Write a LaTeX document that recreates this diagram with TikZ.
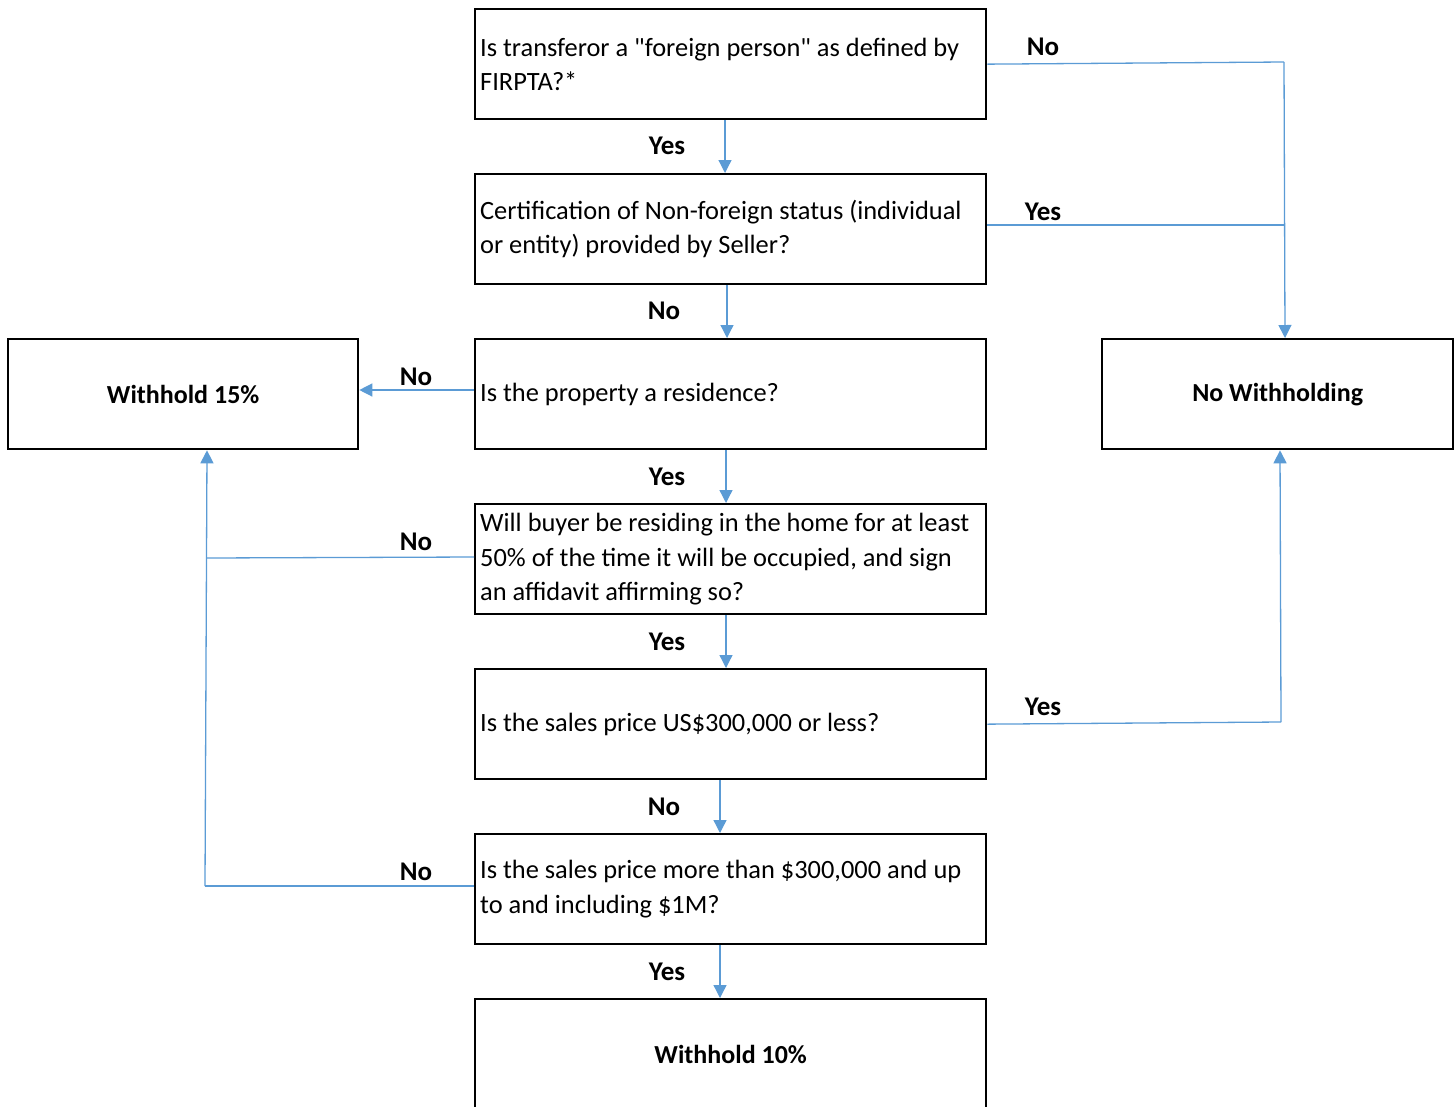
\documentclass[tikz,border=0pt]{standalone}
\usepackage{fontspec}
\setmainfont{Carlito}
\usetikzlibrary{arrows.meta}
\definecolor{conn}{HTML}{5B9BD5}
\begin{document}
\begin{tikzpicture}[x=1pt,y=-1pt,
  qbox/.style={draw=black, line width=2.3pt, minimum width=511pt, minimum height=110pt,
    text width=501pt, inner xsep=5pt, inner ysep=0pt, align=flush left,
    font=\fontsize{26.4}{34.3}\selectfont, anchor=north west},
  rbox/.style={draw=black, line width=2.3pt, minimum height=110pt, align=center,
    font=\fontsize{26}{32}\selectfont\bfseries, anchor=north west},
  lbl/.style={font=\fontsize{27}{32}\selectfont\bfseries, inner sep=0pt},
  conn/.style={draw=conn, line width=1.3pt},
  arr/.style={conn, -{Triangle[width=13pt,length=13pt]}}
]
\useasboundingbox (0,0) rectangle (1456,1106);
\clip (0,0) rectangle (1456,1106);

% question boxes
\node[qbox] (b1) at (474,8) {Is transferor a \textquotedbl foreign person\textquotedbl{} as defined by\\FIRPTA?*};
\node[qbox] (b2) at (474,173) {Certification of Non-foreign status (individual\\or entity) provided by Seller?};
\node[qbox] (b3) at (474,338) {Is the property a residence?};
\node[qbox] (b4) at (474,503) {Will buyer be residing in the home for at least\\50\% of the time it will be occupied, and sign\\an affidavit affirming so?};
\node[qbox] (b5) at (474,668) {Is the sales price US\$300,000 or less?};
\node[qbox] (b6) at (474,833) {Is the sales price more than \$300,000 and up\\to and including \$1M?};

% result boxes
\node[rbox, minimum width=511pt] (w10) at (474,998) {Withhold 10\%};
\node[rbox, minimum width=350pt] (w15) at (7,338) {Withhold 15\%};
\node[rbox, minimum width=351pt] (nw) at (1101,338) {No Withholding};

% vertical chain
\draw[arr] (b1.south -| 725,0) -- (b2.north -| 725,0);
\draw[arr] (b2.south -| 727,0) -- (b3.north -| 727,0);
\draw[arr] (b3.south -| 726,0) -- (b4.north -| 726,0);
\draw[arr] (b4.south -| 726,0) -- (b5.north -| 726,0);
\draw[arr] (b5.south -| 720,0) -- (b6.north -| 720,0);
\draw[arr] (b6.south -| 720,0) -- (w10.north -| 720,0);

\node[lbl] (l1) at (667,146) {Yes};
\node[lbl] (l2) at (664,311) {No};
\node[lbl] (l3) at (667,477) {Yes};
\node[lbl] (l4) at (667,642) {Yes};
\node[lbl] (l5) at (664,807) {No};
\node[lbl] (l6) at (667,972) {Yes};

% right side
\coordinate (r1) at (1284,62);
\draw[conn] (b1.east) -- (r1);
\draw[arr] (r1) -- (nw.north -| 1285,0);
\draw[conn] (b2.east |- 0,225) -- (1284,225);
\coordinate (r5) at (1281,722);
\draw[conn] (b5.east) -- (r5);
\draw[arr] (r5) -- (nw.south -| 1280,0);

\node[lbl] (l7) at (1043,47) {No};
\node[lbl] (l8) at (1043,212) {Yes};
\node[lbl] (l9) at (1043,707) {Yes};

% left side
\draw[arr] (b3.west |- 0,390) -- (w15.east |- 0,390);
\coordinate (lv4) at (207,558);
\coordinate (lv6) at (205,886);
\draw[conn] (b4.west |- 0,557) -- (lv4);
\draw[conn] (b6.west |- 0,886) -- (lv6);
\draw[arr] (lv6) -- (w15.south -| 207,0);

\node[lbl] (l10) at (416,377) {No};
\node[lbl] (l11) at (416,542) {No};
\node[lbl] (l12) at (416,872) {No};
\end{tikzpicture}
\end{document}
